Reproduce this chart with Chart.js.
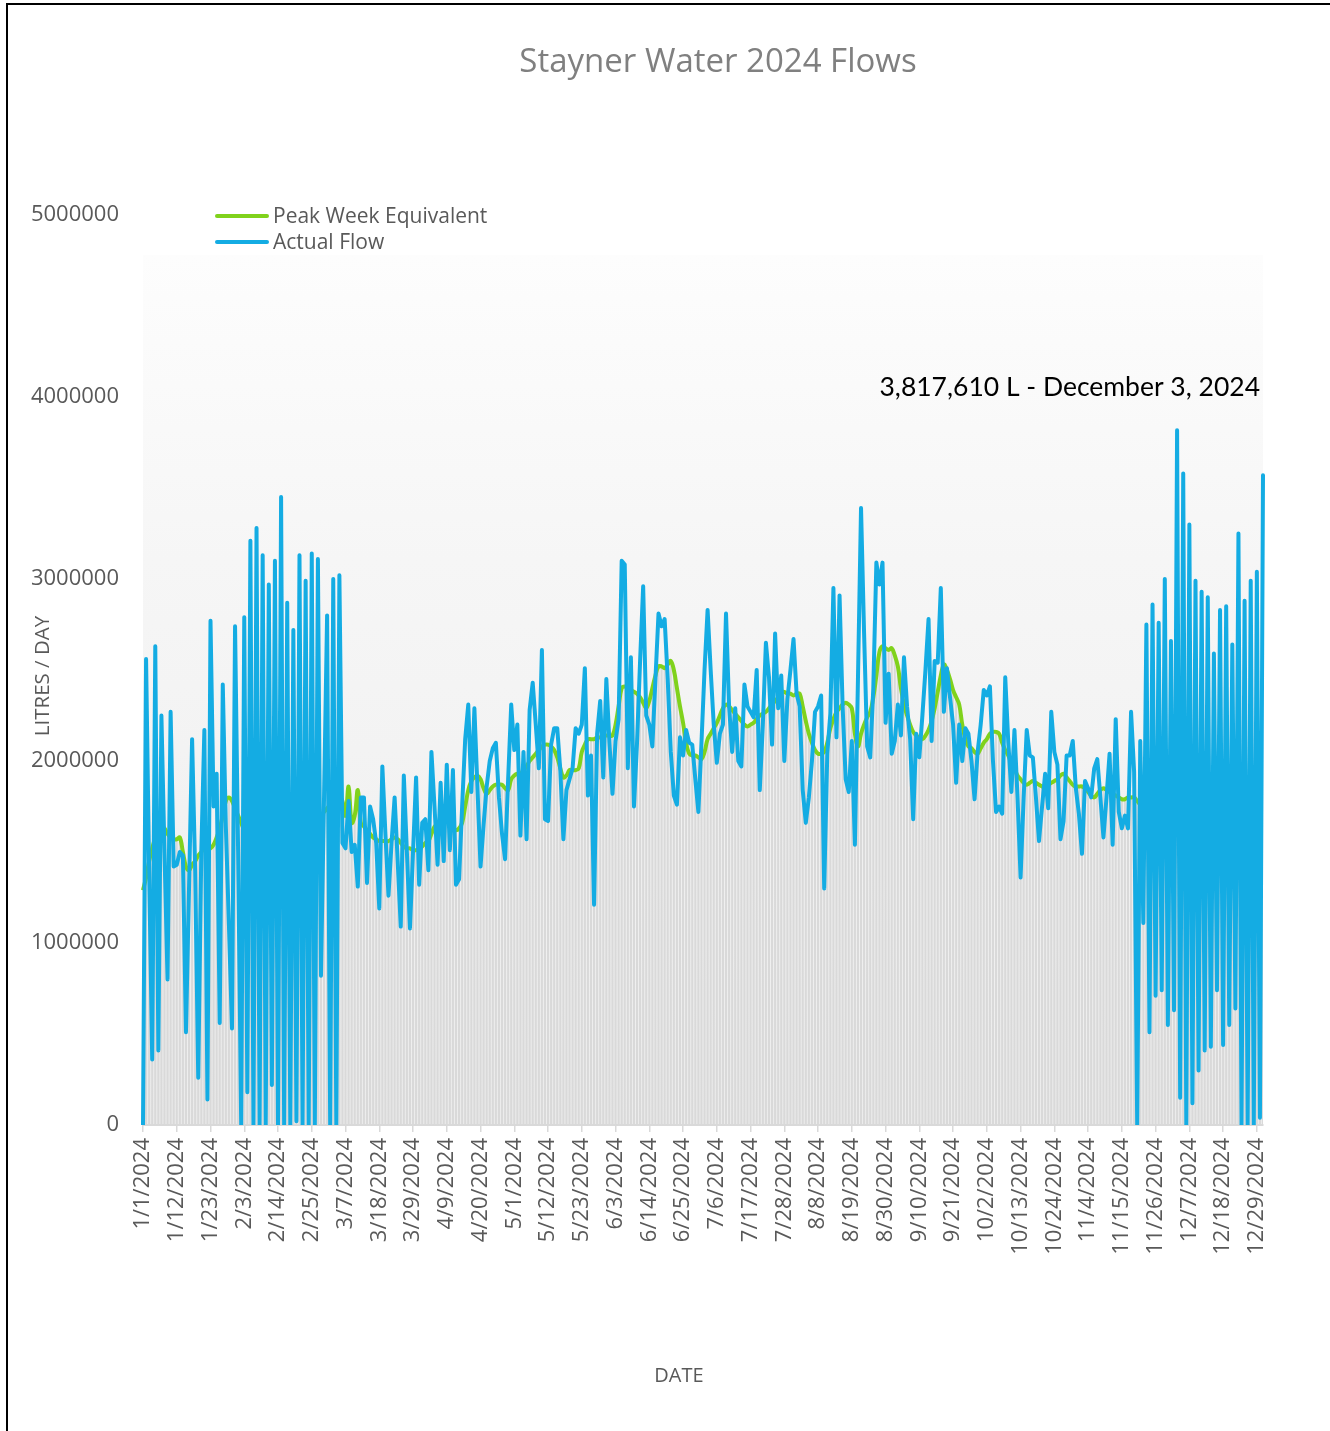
<!DOCTYPE html>
<html>
<head>
<meta charset="utf-8">
<title>Stayner Water 2024 Flows</title>
<script src="https://cdn.jsdelivr.net/npm/chart.js@4.4.1/dist/chart.umd.min.js"></script>
<style>
  html, body { margin: 0; padding: 0; background: #fff; }
  #wrap { position: relative; width: 1330px; height: 1431px; }
  #frame { position: absolute; left: 6px; top: 3px; right: 0; bottom: 0;
           border-left: 2px solid #000; border-top: 2px solid #000; pointer-events: none; }
</style>
</head>
<body>
<div id="wrap">
  <canvas id="flowChart"></canvas>
  <div id="frame"></div>
</div>
<script>
// daily values, million litres per day
const actualJan = [0,2.56,1.4,0.36,2.63,0.41,2.25,1.5,0.8,2.27,1.42,1.43,1.5,1.48,0.51,1.3,2.12,1.4,0.26,1.5,2.17,0.14,2.77,1.75,1.93,0.56,2.42,1.64,1.1,0.53,2.74];
const actualFeb = [1.5,0,2.79,0.18,3.21,0,3.28,0,3.13,0,2.97,0.22,3.1,0,3.45,0,2.87,0,2.72,0.02,3.13,0,2.99,0,3.14,0,3.11,0.82,1.8];
const actualMar = [2.8,0,3.0,0,3.02,1.55,1.52,1.78,1.5,1.54,1.31,1.8,1.8,1.33,1.75,1.68,1.55,1.19,1.97,1.6,1.26,1.55,1.8,1.45,1.09,1.92,1.5,1.08,1.5,1.91,1.32];
const actualApr = [1.66,1.68,1.4,2.05,1.75,1.43,1.88,1.45,1.98,1.51,1.95,1.32,1.35,1.75,2.12,2.31,1.83,2.29,1.85,1.42,1.65,1.86,2.0,2.07,2.1,1.8,1.6,1.46,1.9,2.31];
const actualMay = [2.06,2.2,1.59,2.05,1.57,2.28,2.43,2.2,1.96,2.61,1.68,1.67,2.09,2.18,2.18,1.95,1.57,1.84,1.9,1.96,2.18,2.15,2.2,2.51,1.81,2.03,1.21,2.15,2.33,1.91,2.45];
const actualJun = [2.1,1.82,2.11,2.23,3.1,3.08,1.96,2.57,1.75,2.1,2.55,2.96,2.25,2.2,2.08,2.45,2.81,2.74,2.78,2.45,2.05,1.81,1.76,2.13,2.03,2.17,2.1,2.09,1.9,1.72];
const actualJul = [2.1,2.5,2.83,2.5,2.2,1.99,2.15,2.2,2.81,2.3,2.05,2.29,2.0,1.97,2.42,2.3,2.27,2.24,2.5,1.84,2.2,2.65,2.46,2.09,2.7,2.29,2.47,2.0,2.34,2.5,2.67];
const actualAug = [2.37,2.3,1.84,1.66,1.8,2.0,2.27,2.3,2.36,1.3,2.04,2.26,2.95,2.13,2.91,2.3,1.9,1.83,2.11,1.54,2.45,3.39,2.7,2.08,2.02,2.4,3.09,2.97,3.09,2.21,2.48];
const actualSep = [2.04,2.11,2.31,2.14,2.57,2.3,2.12,1.68,2.15,2.02,2.25,2.5,2.78,2.11,2.55,2.54,2.95,2.27,2.51,2.35,2.2,1.88,2.2,2.0,2.18,2.15,2.0,1.79,2.05,2.2];
const actualOct = [2.39,2.36,2.41,2.0,1.72,1.75,1.71,2.46,2.1,1.83,2.17,1.8,1.36,1.8,2.17,2.03,2.02,1.8,1.56,1.75,1.93,1.74,2.27,2.05,1.98,1.57,1.67,2.03,2.03,2.11,1.85];
const actualNov = [1.71,1.49,1.89,1.85,1.8,1.96,2.01,1.8,1.58,1.8,2.04,1.54,2.23,1.72,1.63,1.7,1.63,2.27,1.94,0,2.11,1.11,2.75,0.51,2.86,0.71,2.76,0.74,3.0,0.55];
const actualDec = [2.66,0.63,3.81761,0.15,3.58,0,3.3,0.12,2.99,0.3,2.93,0.41,2.9,0.43,2.59,0.74,2.83,0.44,2.85,0.55,2.64,0.64,3.25,0,2.88,0,2.99,0,3.04,0.04,3.57];

const peakJan = [1.29,1.36,1.45,1.52,1.58,1.62,1.64,1.63,1.6,1.58,1.57,1.57,1.58,1.5,1.42,1.4,1.43,1.45,1.48,1.5,1.52,1.52,1.52,1.54,1.58,1.63,1.7,1.78,1.8,1.78,1.74];
const peakFeb = [1.7,1.66,1.62,1.6,1.62,1.65,1.66,1.64,1.6,1.58,1.58,1.6,1.63,1.66,1.7,1.68,1.65,1.6,1.58,1.6,1.62,1.63,1.6,1.6,1.62,1.65,1.68,1.7,1.72];
const peakMar = [1.74,1.76,1.78,1.79,1.8,1.78,1.7,1.86,1.66,1.7,1.84,1.66,1.64,1.62,1.6,1.58,1.57,1.56,1.56,1.56,1.56,1.57,1.58,1.57,1.55,1.53,1.52,1.52,1.51,1.51,1.52];
const peakApr = [1.53,1.55,1.56,1.6,1.64,1.65,1.66,1.67,1.67,1.65,1.63,1.62,1.63,1.66,1.75,1.84,1.89,1.91,1.92,1.9,1.85,1.82,1.84,1.86,1.87,1.87,1.87,1.85,1.84,1.9];
const peakMay = [1.92,1.93,1.93,1.95,1.97,2.0,2.02,2.04,2.06,2.08,2.09,2.09,2.08,2.06,2.02,1.96,1.91,1.92,1.95,1.95,1.95,1.96,2.05,2.09,2.12,2.12,2.12,2.13,2.13,2.14,2.14];
const peakJun = [2.14,2.14,2.2,2.3,2.4,2.41,2.4,2.39,2.38,2.37,2.35,2.32,2.29,2.33,2.4,2.47,2.52,2.52,2.51,2.53,2.55,2.5,2.4,2.3,2.21,2.1,2.04,2.03,2.03,2.02];
const peakJul = [2.01,2.05,2.12,2.15,2.18,2.21,2.25,2.29,2.31,2.3,2.28,2.26,2.24,2.22,2.2,2.19,2.2,2.21,2.23,2.25,2.26,2.27,2.29,2.31,2.33,2.35,2.38,2.38,2.37,2.37,2.36];
const peakAug = [2.37,2.37,2.3,2.22,2.15,2.1,2.06,2.04,2.04,2.05,2.1,2.18,2.23,2.27,2.29,2.31,2.32,2.31,2.29,2.15,2.08,2.15,2.2,2.24,2.27,2.35,2.47,2.6,2.63,2.62,2.61];
const peakSep = [2.62,2.58,2.52,2.4,2.31,2.25,2.2,2.16,2.14,2.13,2.12,2.14,2.17,2.22,2.29,2.38,2.47,2.53,2.5,2.45,2.39,2.35,2.31,2.2,2.12,2.08,2.07,2.05,2.04,2.07];
const peakOct = [2.1,2.12,2.15,2.16,2.16,2.15,2.1,2.06,2.03,1.99,1.96,1.92,1.9,1.88,1.87,1.88,1.89,1.88,1.87,1.86,1.86,1.87,1.88,1.89,1.9,1.92,1.93,1.91,1.89,1.87,1.86];
const peakNov = [1.86,1.86,1.85,1.83,1.81,1.8,1.82,1.84,1.85,1.84,1.83,1.82,1.81,1.8,1.79,1.79,1.8,1.8,1.8,1.78,1.76,1.75,1.76,1.77,1.78,1.79,1.8,1.8,1.79,1.78];
const peakDec = [1.78,1.8,1.83,1.85,1.87,1.86,1.84,1.82,1.8,1.78,1.77,1.76,1.76,1.77,1.77,1.76,1.75,1.76,1.77,1.78,1.78,1.79,1.8,1.8,1.79,1.78,1.77,1.77,1.78,1.79,1.79];

const yTicks = [0, 1000000, 2000000, 3000000, 4000000, 5000000];
const labelEvery = 11; // one date label every 11 days
const chartTitle = "Stayner Water 2024 Flows";
const peakNote = "3,817,610 L - December 3, 2024";
const seriesNames = ["Peak Week Equivalent", "Actual Flow"];

const MILLION = 1000000;
const actualFlow = [].concat(actualJan, actualFeb, actualMar, actualApr, actualMay, actualJun,
    actualJul, actualAug, actualSep, actualOct, actualNov, actualDec).map(v => Math.round(v * MILLION));
const peakWeek = [].concat(peakJan, peakFeb, peakMar, peakApr, peakMay, peakJun,
    peakJul, peakAug, peakSep, peakOct, peakNov, peakDec).map(v => Math.round(v * MILLION));

// one category per day of 2024
let dayLabels = [];
for (let d = new Date(2024, 0, 1); d.getFullYear() === 2024; d.setDate(d.getDate() + 1)) {
    dayLabels.push((d.getMonth() + 1) + "/" + d.getDate() + "/2024");
}
if (actualFlow.length !== dayLabels.length || peakWeek.length !== dayLabels.length) {
    console.warn("length mismatch", actualFlow.length, peakWeek.length, dayLabels.length);
}

const BLUE = "#14ace3";
const GREEN = "#80d21c";
const TEXT = "#595959";

const plotBackground = {
    id: "plotBackground",
    beforeDraw(chart) {
        const { ctx, chartArea } = chart;
        const top = chart.scales.y.getPixelForValue(4780000);
        const g = ctx.createLinearGradient(0, top, 0, chartArea.bottom);
        g.addColorStop(0, "#fdfdfd");
        g.addColorStop(0.35, "#f6f6f6");
        g.addColorStop(1, "#ededed");
        ctx.save();
        ctx.fillStyle = g;
        ctx.fillRect(chartArea.left, top, chartArea.right - chartArea.left, chartArea.bottom - top);
        ctx.restore();
    }
};

const chartText = {
    id: "chartText",
    afterDraw(chart) {
        const ctx = chart.ctx;
        ctx.save();
        // title
        ctx.fillStyle = "#808080";
        ctx.font = '33px "Open Sans"';
        ctx.textAlign = "center";
        ctx.textBaseline = "middle";
        ctx.fillText(chartTitle, 718, 63);

        // legend
        const colors = [GREEN, BLUE];
        ctx.font = '21px "Open Sans"';
        ctx.textAlign = "left";
        seriesNames.forEach((name, i) => {
            const y = 216 + i * 26;
            ctx.strokeStyle = colors[i];
            ctx.lineWidth = 4;
            ctx.lineCap = "round";
            ctx.beginPath();
            ctx.moveTo(217, y);
            ctx.lineTo(267, y);
            ctx.stroke();
            ctx.fillStyle = TEXT;
            ctx.fillText(name, 273, y + 1);
        });

        // peak note
        ctx.fillStyle = "#000";
        ctx.font = '26.5px "Lato"';
        ctx.textAlign = "right";
        ctx.fillText(peakNote, 1260, 387);

        // axis titles
        ctx.fillStyle = TEXT;
        ctx.font = '20px "Open Sans"';
        ctx.textAlign = "center";
        ctx.fillText("DATE", 679, 1376);
        ctx.translate(43, 676);
        ctx.rotate(-Math.PI / 2);
        ctx.font = '20.5px "Open Sans"';
        ctx.fillText("LITRES / DAY", 0, 0);
        ctx.restore();
    }
};

const ctx = document.getElementById("flowChart").getContext("2d");
const flowChart = new Chart(ctx, {
    data: {
        labels: dayLabels,
        datasets: [
            {
                type: "line",
                label: seriesNames[1],
                data: actualFlow,
                borderColor: BLUE,
                borderWidth: 4,
                pointRadius: 0,
                tension: 0,
                borderJoinStyle: "round",
                borderCapStyle: "round",
                order: 1
            },
            {
                type: "line",
                label: seriesNames[0],
                data: peakWeek,
                borderColor: GREEN,
                borderWidth: 4,
                pointRadius: 0,
                tension: 0.4,
                borderJoinStyle: "round",
                order: 2
            },
            {
                type: "bar",
                label: "bars",
                data: peakWeek,
                backgroundColor: "#d9d9d9",
                barPercentage: 0.68,
                categoryPercentage: 1,
                order: 3
            }
        ]
    },
    options: {
        responsive: true,
        maintainAspectRatio: false,
        animation: false,
        layout: { padding: { left: 0, right: 67, top: 215, bottom: 0 } },
        plugins: {
            legend: { display: false },
            title: { display: false },
            tooltip: { enabled: false }
        },
        scales: {
            x: {
                type: "category",
                offset: false,
                afterFit: (scale) => { scale.height = 306; },
                grid: {
                    offset: false,
                    drawOnChartArea: false,
                    drawTicks: true,
                    tickLength: 7,
                    color: "#d9d9d9",
                    lineWidth: 1.5
                },
                border: { display: true, color: "#d9d9d9", width: 2 },
                ticks: {
                    autoSkip: false,
                    maxRotation: 90,
                    minRotation: 90,
                    padding: 6,
                    color: TEXT,
                    font: { family: "Open Sans", size: 22 },
                    callback: function (value, index) {
                        return index % labelEvery === 0 ? this.getLabelForValue(value) : null;
                    }
                }
            },
            y: {
                min: yTicks[0],
                max: yTicks[yTicks.length - 1],
                afterFit: (scale) => { scale.width = 143; },
                afterBuildTicks: (scale) => { scale.ticks = yTicks.map(v => ({ value: v })); },
                grid: { display: false, drawTicks: false },
                border: { display: false },
                ticks: {
                    padding: 24,
                    color: TEXT,
                    font: { family: "Open Sans", size: 22 },
                    callback: (v) => String(v)
                }
            }
        }
    },
    plugins: [plotBackground, chartText]
});
</script>
</body>
</html>
